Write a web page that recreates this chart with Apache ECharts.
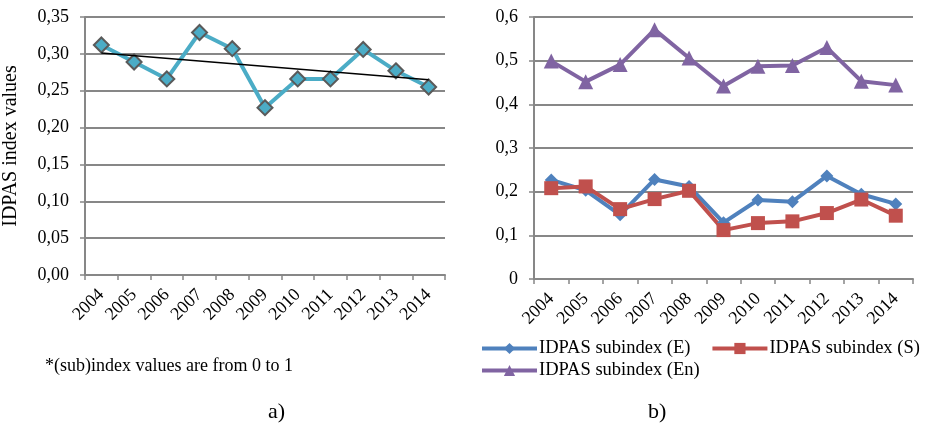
<!DOCTYPE html>
<html>
<head>
<meta charset="utf-8">
<script src="https://cdn.jsdelivr.net/npm/echarts@6/dist/echarts.min.js"></script>
<style>
html,body{margin:0;padding:0;background:#fff;}
#chart{width:928px;height:428px;}
</style>
</head>
<body>
<div id="chart"></div>
<script>
const years = ['2004','2005','2006','2007','2008','2009','2010','2011','2012','2013','2014'];
const idpasIndex = [0.312, 0.289, 0.266, 0.329, 0.307, 0.227, 0.266, 0.266, 0.306, 0.277, 0.255];
const idpasTrend = [0.301, null, null, null, null, null, null, null, null, null, 0.265];
const subE  = [0.227, 0.203, 0.147, 0.228, 0.212, 0.129, 0.181, 0.177, 0.236, 0.194, 0.172];
const subS  = [0.208, 0.212, 0.160, 0.183, 0.202, 0.112, 0.128, 0.132, 0.151, 0.182, 0.145];
const subEn = [0.499, 0.452, 0.491, 0.571, 0.506, 0.442, 0.487, 0.489, 0.530, 0.453, 0.444];
const leftTicks = {min: 0, max: 0.35, interval: 0.05};
const rightTicks = {min: 0, max: 0.6, interval: 0.1};
const names = ['IDPAS subindex (E)', 'IDPAS subindex (S)', 'IDPAS subindex (En)'];

const FONT = '"Liberation Serif", "Times New Roman", serif';
const GRID = '#878787';

function xAxis(gridIndex){
  return {
    type: 'category', gridIndex, data: years, boundaryGap: true,
    axisLine: {lineStyle: {color: GRID, width: 2}},
    axisTick: {show: true, alignWithLabel: false, length: 5, lineStyle: {color: GRID, width: 1.5}},
    axisLabel: {rotate: 45, fontFamily: FONT, fontSize: 18, color: '#000', margin: 17, interval: 0}
  };
}
function yAxis(gridIndex, t, fmt){
  return {
    type: 'value', gridIndex, min: t.min, max: t.max, interval: t.interval,
    axisLine: {show: true, lineStyle: {color: GRID, width: 2}},
    axisTick: {show: true, length: 5, lineStyle: {color: GRID, width: 1.5}},
    splitLine: {show: true, lineStyle: {color: GRID, width: 2}},
    axisLabel: {fontFamily: FONT, fontSize: 18, color: '#000', margin: 16, formatter: fmt}
  };
}
const legendBase = {
  padding: 0, width: 448, orient: 'horizontal',
  itemWidth: 55, itemHeight: 14, itemGap: 20,
  textStyle: {fontFamily: FONT, fontSize: 18.5, color: '#000', padding: [0,0,0,-3]},
  lineStyle: {width: 4}
};

const chart = echarts.init(document.getElementById('chart'), null, {renderer: 'canvas'});
chart.setOption({
  animation: false,
  backgroundColor: '#fff',
  textStyle: {fontFamily: FONT},
  grid: [
    {left: 82, top: 17, width: 363, height: 258, containLabel: false},
    {left: 534, top: 17, width: 379, height: 262, containLabel: false}
  ],
  xAxis: [xAxis(0), xAxis(1)],
  yAxis: [
    Object.assign(yAxis(0, leftTicks, v => v.toFixed(2).replace('.', ',')), {
      name: 'IDPAS index values', nameLocation: 'middle', nameRotate: 90, nameGap: 64,
      nameTextStyle: {fontFamily: FONT, fontSize: 20, color: '#000'}
    }),
    yAxis(1, rightTicks, v => v === 0 ? '0' : v.toFixed(1).replace('.', ','))
  ],
  legend: [
    Object.assign({left: 480, top: 339, data: [names[0], names[1]]}, legendBase),
    Object.assign({left: 480, top: 361, data: [names[2]]}, legendBase)
  ],
  graphic: [
    {type: 'text', left: 45, top: 357, style: {text: '*(sub)index values are from 0 to 1', fontFamily: FONT, fontSize: 18, fill: '#000'}},
    {type: 'text', left: 268, top: 401, style: {text: 'a)', fontFamily: FONT, fontSize: 22, fill: '#000'}},
    {type: 'text', left: 648, top: 401, style: {text: 'b)', fontFamily: FONT, fontSize: 22, fill: '#000'}}
  ],
  series: [
    {
      type: 'line', xAxisIndex: 0, yAxisIndex: 0, data: idpasIndex,
      symbol: 'diamond', symbolSize: 15,
      lineStyle: {color: '#4BACC6', width: 4},
      itemStyle: {color: '#4BACC6', borderColor: '#5a5a5a', borderWidth: 2},
      z: 3
    },
    {
      type: 'line', xAxisIndex: 0, yAxisIndex: 0, data: idpasTrend, connectNulls: true,
      symbol: 'none', lineStyle: {color: '#000', width: 1.5}, z: 4
    },
    {
      name: names[0], type: 'line', xAxisIndex: 1, yAxisIndex: 1, data: subE,
      symbol: 'diamond', symbolSize: 13,
      lineStyle: {color: '#4F81BD', width: 4},
      itemStyle: {color: '#4F81BD'}
    },
    {
      name: names[1], type: 'line', xAxisIndex: 1, yAxisIndex: 1, data: subS,
      symbol: 'rect', symbolSize: 14,
      lineStyle: {color: '#C0504D', width: 4},
      itemStyle: {color: '#C0504D'}
    },
    {
      name: names[2], type: 'line', xAxisIndex: 1, yAxisIndex: 1, data: subEn,
      symbol: 'triangle', symbolSize: 15,
      lineStyle: {color: '#8064A2', width: 4},
      itemStyle: {color: '#8064A2'}
    }
  ]
});
</script>
</body>
</html>
